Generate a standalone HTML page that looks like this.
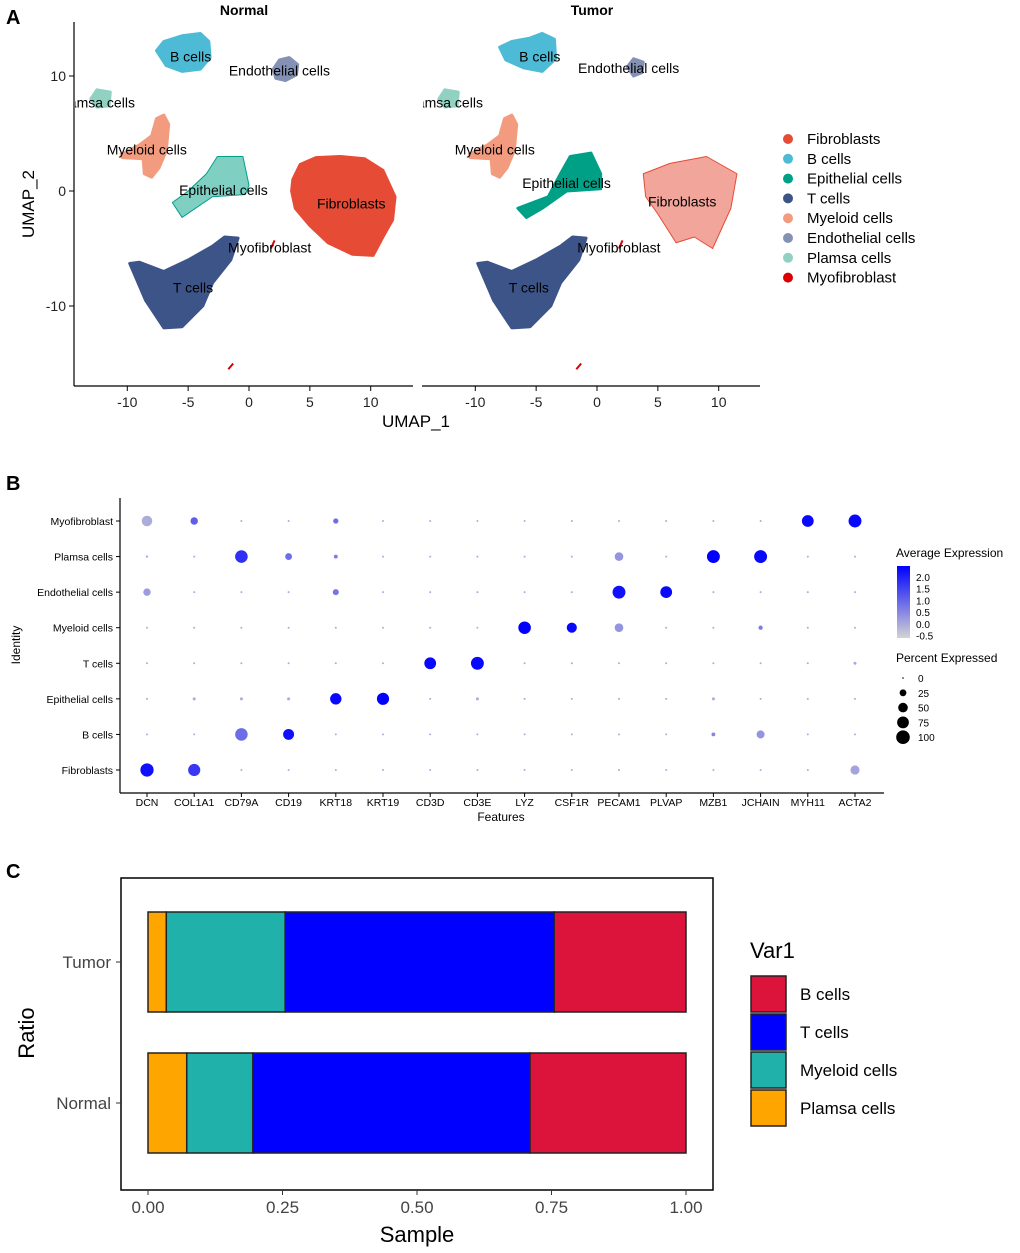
<!DOCTYPE html>
<html><head><meta charset="utf-8"><style>
body{margin:0;background:#fff;}
svg{display:block;font-family:"Liberation Sans",sans-serif;}
</style></head><body>
<svg id="fig" width="1020" height="1253" viewBox="0 0 1020 1253">
<defs>
<clipPath id="clipN"><rect x="75" y="20" width="338" height="366"/></clipPath>
<clipPath id="clipT"><rect x="423" y="20" width="338" height="366"/></clipPath>
</defs>
<text x="6" y="24" font-size="20" font-weight="bold">A</text>
<text x="6" y="490" font-size="20" font-weight="bold">B</text>
<text x="6" y="878" font-size="20" font-weight="bold">C</text>
<g id="pa"></g>
<g id="pb"></g>
<g id="pc"></g>
</svg>
<script>
const NS="http://www.w3.org/2000/svg";
function mk(parent,tag,attrs,text){const e=document.createElementNS(NS,tag);for(const k in attrs)e.setAttribute(k,attrs[k]);if(text!==undefined)e.textContent=text;parent.appendChild(e);return e;}

// ===== Panel A data =====
const clusterNames=["Fibroblasts","B cells","Epithelial cells","T cells","Myeloid cells","Endothelial cells","Plamsa cells","Myofibroblast"];
const clusterColors=["#E64B35","#4DBBD5","#00A087","#3C5488","#F39B7F","#8491B4","#91D1C2","#DC0000"];
const umapTicks=[-10,-5,0,5,10];
const normalShapes={
 "B cells":[[-7.6,12.2],[-7,13],[-5.5,13.5],[-4,13.7],[-3.3,13],[-3.2,11.6],[-4,10.6],[-5.5,10.4],[-6.8,10.9]],
 "Endothelial cells":[[2,10.6],[2.5,11.4],[3.3,11.6],[4,11],[3.9,10.1],[3,9.6],[2.2,9.8]],
 "Plamsa cells":[[-13,8],[-12.5,8.8],[-11.4,8.6],[-11.5,7.4],[-12.5,7.3]],
 "Myeloid cells":[[-10.5,3.2],[-9,4],[-8,4.8],[-7.6,6.3],[-7,6.6],[-6.6,5.8],[-6.8,3.5],[-7.4,2],[-8,1.2],[-8.6,1.5],[-8.7,2.8],[-10.4,2.9]],
 "Epithelial cells":[[-6.3,-1],[-5,0],[-3.5,1.5],[-2.6,3],[-0.5,3],[0,0.5],[-0.3,-0.3],[-3,-0.5],[-5.5,-2.3]],
 "Fibroblasts":[[3.6,1],[4.2,2.3],[5.5,2.9],[7.5,3],[9.5,2.8],[11,1.8],[12,-0.5],[11.8,-2.5],[11,-4],[10.2,-5.6],[8.5,-5.5],[6.5,-4.5],[5,-3],[3.8,-1.5],[3.5,0]],
 "T cells":[[-9.8,-6.3],[-9,-6.2],[-7,-7],[-5,-6],[-3,-4.8],[-2,-4],[-0.9,-4.1],[-1.5,-6],[-3,-8],[-3.8,-10],[-5.5,-11.8],[-7,-11.9],[-8.5,-9.5]],
 "Myofibroblast":[[1.8,-5],[2.1,-4.3],[-1.3,-15],[-1.7,-15.5]]
};
const normalSparse=["Epithelial cells"];
const tumorShapes={
 "B cells":[[-8,12.5],[-7,13],[-5.5,13.3],[-4.5,13.7],[-3.5,13.2],[-3.4,11.5],[-4.5,10.4],[-6,10.7],[-7.5,11.4]],
 "Endothelial cells":[[2.5,10.8],[3,11.5],[3.8,11.2],[3.7,10.3],[3,10]],
 "Plamsa cells":[[-13,8],[-12.5,8.8],[-11.4,8.6],[-11.5,7.4],[-12.5,7.3]],
 "Myeloid cells":[[-10.5,3.2],[-9,4],[-8,4.8],[-7.6,6.3],[-7,6.6],[-6.6,5.8],[-6.8,3.5],[-7.4,2],[-8,1.2],[-8.6,1.5],[-8.7,2.8],[-10.4,2.9]],
 "Epithelial cells":[[-6.5,-1.5],[-4,-0.5],[-3,1.5],[-2.2,3],[-0.5,3.3],[0.3,1.5],[0.3,0.2],[-2.5,0],[-4.5,-1.5],[-5.8,-2.3]],
 "Fibroblasts":[[3.8,1.5],[6,2.4],[9,3],[11.5,1.5],[11,-1.5],[9.5,-5],[8,-4],[6.5,-4.5],[5,-2],[4,-0.5]],
 "T cells":[[-9.8,-6.3],[-9,-6.2],[-7,-7],[-5,-6],[-3,-4.8],[-2,-4],[-0.9,-4.1],[-1.5,-6],[-3,-8],[-3.8,-10],[-5.5,-11.8],[-7,-11.9],[-8.5,-9.5]],
 "Myofibroblast":[[1.8,-5],[2.1,-4.3],[-1.3,-15],[-1.7,-15.5]]
};
const tumorSparse=["Fibroblasts"];
const normalLabels={"B cells":[-4.8,11.7],"Endothelial cells":[2.5,10.5],"Plamsa cells":[-12.6,7.7],"Myeloid cells":[-8.4,3.6],"Epithelial cells":[-2.1,0.1],"Fibroblasts":[8.4,-1.1],"Myofibroblast":[1.7,-4.9],"T cells":[-4.6,-8.4]};
const tumorLabels={"B cells":[-4.7,11.7],"Endothelial cells":[2.6,10.7],"Plamsa cells":[-12.6,7.7],"Myeloid cells":[-8.4,3.6],"Epithelial cells":[-2.5,0.7],"Fibroblasts":[7.0,-0.9],"Myofibroblast":[1.8,-4.9],"T cells":[-5.6,-8.4]};

(function(){
 const g=document.getElementById('pa');
 const yS=v=>191-v*11.5;
 const panels=[{x0:249,title:"Normal",shapes:normalShapes,sparse:normalSparse,labels:normalLabels,clip:"clipN",ax0:74,ax1:413},
               {x0:597,title:"Tumor",shapes:tumorShapes,sparse:tumorSparse,labels:tumorLabels,clip:"clipT",ax0:422,ax1:760}];
 panels.forEach((p,pi)=>{
  const xS=v=>p.x0+v*12.17;
  const pg=mk(g,'g',{'clip-path':`url(#${p.clip})`});
  
  
  clusterNames.forEach((nm,i)=>{
   const pts=p.shapes[nm];
   if(nm==="Myofibroblast"){
    for(let k=0;k<pts.length;k+=2){
     const l=mk(pg,'line',{x1:xS(pts[k][0]),y1:yS(pts[k][1]),x2:xS(pts[k+1][0]),y2:yS(pts[k+1][1]),stroke:clusterColors[i],'stroke-width':2});
     
     
    }
    return;
   }
   const sparse=p.sparse.includes(nm);
   const poly=mk(pg,'polygon',{points:pts.map(q=>xS(q[0])+','+yS(q[1])).join(' '),fill:clusterColors[i],'fill-opacity':sparse?0.5:1,stroke:clusterColors[i],'stroke-width':sparse?1:3,'stroke-linejoin':'round'});
   
   
  });
  clusterNames.forEach(nm=>{
   const c=p.labels[nm];
   const t=mk(pg,'text',{x:xS(c[0]),y:yS(c[1])+5,'font-size':14,'text-anchor':'middle',fill:'#000'},nm);
   
   
  });
  const tt=mk(g,'text',{x:xS(0)-5,y:15,'font-size':14,'font-weight':'bold','text-anchor':'middle'},p.title);
  
  
  mk(g,'line',{x1:p.ax0,y1:386,x2:p.ax1,y2:386,stroke:'#000','stroke-width':1.2});
  umapTicks.forEach(v=>{
   mk(g,'line',{x1:xS(v),y1:386,x2:xS(v),y2:391,stroke:'#000'});
   const t=mk(g,'text',{x:xS(v),y:407,'font-size':14,'text-anchor':'middle',fill:'#222'},v);
   
   
  });
 });
 mk(g,'line',{x1:74,y1:22,x2:74,y2:386,stroke:'#000','stroke-width':1.2});
 [10,0,-10].forEach(v=>{
  mk(g,'line',{x1:69,y1:yS(v),x2:74,y2:yS(v),stroke:'#000'});
  const t=mk(g,'text',{x:66,y:yS(v)+5,'font-size':14,'text-anchor':'end',fill:'#222'},v);
  
  
 });
 let t=mk(g,'text',{x:416,y:427,'font-size':17,'text-anchor':'middle'},'UMAP_1');
 
 t=mk(g,'text',{x:34,y:204,'font-size':17,'text-anchor':'middle',transform:'rotate(-90 34 204)'},'UMAP_2');
 
 clusterNames.forEach((nm,i)=>{
  const y=139+i*19.8;
  const e=mk(g,'g',{});
  
  
  mk(e,'circle',{cx:788,cy:y,r:5,fill:clusterColors[i]});
  mk(e,'text',{x:807,y:y+5,'font-size':15},nm);
 });
})();

// ===== Panel B data =====
const genes=["DCN","COL1A1","CD79A","CD19","KRT18","KRT19","CD3D","CD3E","LYZ","CSF1R","PECAM1","PLVAP","MZB1","JCHAIN","MYH11","ACTA2"];
const identities=["Myofibroblast","Plamsa cells","Endothelial cells","Myeloid cells","T cells","Epithelial cells","B cells","Fibroblasts"];
const pctMyofibroblast=[60,30,2,2,15,2,2,2,2,2,2,2,2,2,75,90];
const pctPlamsa=[3,2,85,25,8,2,2,2,2,2,40,2,90,90,2,2];
const pctEndothelial=[30,2,2,2,20,2,2,2,2,2,90,75,2,2,2,2];
const pctMyeloid=[2,2,2,2,2,2,2,2,85,55,40,2,2,10,2,2];
const pctT=[2,2,2,2,2,2,75,90,2,2,2,2,2,2,2,5];
const pctEpithelial=[2,5,5,5,70,80,2,5,2,2,2,2,5,2,2,2];
const pctB=[2,2,85,65,2,2,2,2,2,2,2,2,8,35,2,2];
const pctFibroblasts=[95,80,2,2,2,2,2,2,2,2,2,2,2,2,2,45];
const exprMyofibroblast=[0,1.0,0,0,0.8,0,0,0,0,0,0,0,0,0,2.1,2.1];
const exprPlamsa=[0,0,1.6,0.8,0.6,0,0,0,0,0,0.3,0,2.2,2.1,0,0];
const exprEndothelial=[0.2,0,0,0,0.7,0,0,0,0,0,2.0,2.1,0,0,0,0];
const exprMyeloid=[0,0,0,0,0,0,0,0,2.2,2.1,0.3,0,0,0.6,0,0];
const exprT=[0,0,0,0,0,0,2.1,2.1,0,0,0,0,0,0,0,0];
const exprEpithelial=[0,0,0,0,2.1,2.2,0,0,0,0,0,0,0,0,0,0];
const exprB=[0,0,0.8,2.0,0,0,0,0,0,0,0,0,0.5,0.3,0,0];
const exprFibroblasts=[2.0,1.5,0,0,0,0,0,0,0,0,0,0,0,0,0,0.1];
const pctRows=[pctMyofibroblast,pctPlamsa,pctEndothelial,pctMyeloid,pctT,pctEpithelial,pctB,pctFibroblasts];
const exprRows=[exprMyofibroblast,exprPlamsa,exprEndothelial,exprMyeloid,exprT,exprEpithelial,exprB,exprFibroblasts];
const colorTicks=[2.0,1.5,1.0,0.5,0.0,-0.5];
const pctTicks=[0,25,50,75,100];

(function(){
 const g=document.getElementById('pb');
 const xS=i=>147+i*47.2;
 const yS=j=>521+j*35.57;
 const rS=p=>Math.max(1,Math.sqrt(p/100)*6.8);
 const col=v=>{let t=(v+0.5)/2.7;t=Math.max(0,Math.min(1,t));const r=Math.round(211*(1-t)),gg=Math.round(211*(1-t)),b=Math.round(211+(255-211)*t);return `rgb(${r},${gg},${b})`;};
 mk(g,'line',{x1:120,y1:498,x2:120,y2:793,stroke:'#000','stroke-width':1.2});
 mk(g,'line',{x1:120,y1:793,x2:884,y2:793,stroke:'#000','stroke-width':1.2});
 identities.forEach((nm,j)=>{
  mk(g,'line',{x1:116,y1:yS(j),x2:120,y2:yS(j),stroke:'#000'});
  const t=mk(g,'text',{x:113,y:yS(j)+4,'font-size':10.5,'text-anchor':'end'},nm);
  
  genes.forEach((gn,i)=>{
   const c=mk(g,'circle',{cx:xS(i),cy:yS(j),r:rS(pctRows[j][i]),fill:col(exprRows[j][i])});
   
   
  });
 });
 genes.forEach((gn,i)=>{
  mk(g,'line',{x1:xS(i),y1:793,x2:xS(i),y2:797,stroke:'#000'});
  const t=mk(g,'text',{x:xS(i),y:806,'font-size':10.5,'text-anchor':'middle'},gn);
  
 });
 let t=mk(g,'text',{x:501,y:821,'font-size':12,'text-anchor':'middle'},'Features');
 
 t=mk(g,'text',{x:20,y:645,'font-size':12,'text-anchor':'middle',transform:'rotate(-90 20 645)'},'Identity');
 
 t=mk(g,'text',{x:896,y:557,'font-size':12},'Average Expression');
 
 const gr=mk(g,'defs',{});
 const lg=mk(gr,'linearGradient',{id:'cb',x1:0,y1:1,x2:0,y2:0});
 mk(lg,'stop',{offset:'0','stop-color':'#d3d3d3'});
 mk(lg,'stop',{offset:'1','stop-color':'#0000ff'});
 const cb=mk(g,'rect',{x:897,y:566,width:13,height:72,fill:'url(#cb)'});
 
 colorTicks.forEach((v,k)=>{
  const tt=mk(g,'text',{x:916,y:581+k*11.7,'font-size':10},v.toFixed(1));
  
 });
 t=mk(g,'text',{x:896,y:662,'font-size':12},'Percent Expressed');
 
 pctTicks.forEach((v,k)=>{
  const y=678+k*14.8;
  const e=mk(g,'g',{});
  
  
  mk(e,'circle',{cx:903,cy:y,r:v===0?0.8:rS(v),fill:'#000'});
  mk(e,'text',{x:918,y:y+4,'font-size':10},v);
 });
})();

// ===== Panel C data =====
const samples=["Tumor","Normal"];
const stackOrder=["Plamsa cells","Myeloid cells","T cells","B cells"];
const stackColors=["#FFA500","#20B2AA","#0000FF","#DC143C"];
const fracTumor=[0.034,0.221,0.500,0.245];
const fracNormal=[0.072,0.123,0.515,0.290];
const fracRows=[fracTumor,fracNormal];
const sampleTicks=[0,0.25,0.5,0.75,1];

(function(){
 const g=document.getElementById('pc');
 const xS=v=>148+v*538;
 const yC=[962,1103];
 mk(g,'rect',{x:121,y:878,width:592,height:312,fill:'none',stroke:'#000','stroke-width':1.5});
 samples.forEach((s,j)=>{
  let acc=0;
  fracRows[j].forEach((f,k)=>{
   const r=mk(g,'rect',{x:xS(acc),y:yC[j]-50,width:xS(acc+f)-xS(acc),height:100,fill:stackColors[k],stroke:'#222','stroke-width':1.5});
   
   
   acc+=f;
  });
  mk(g,'line',{x1:116,y1:yC[j],x2:121,y2:yC[j],stroke:'#333'});
  const t=mk(g,'text',{x:111,y:yC[j]+6,'font-size':17,'text-anchor':'end',fill:'#444'},s);
  
 });
 sampleTicks.forEach(v=>{
  mk(g,'line',{x1:xS(v),y1:1190,x2:xS(v),y2:1195,stroke:'#333'});
  const t=mk(g,'text',{x:xS(v),y:1213,'font-size':17,'text-anchor':'middle',fill:'#444'},v.toFixed(2));
  
 });
 let t=mk(g,'text',{x:417,y:1242,'font-size':22,'text-anchor':'middle'},'Sample');
 
 t=mk(g,'text',{x:34,y:1033,'font-size':22,'text-anchor':'middle',transform:'rotate(-90 34 1033)'},'Ratio');
 
 t=mk(g,'text',{x:750,y:958,'font-size':22},'Var1');
 
 const legOrder=[3,2,1,0];
 legOrder.forEach((k,i)=>{
  const y=976+i*38;
  const e=mk(g,'g',{});
  
  
  mk(e,'rect',{x:751,y:y,width:35,height:36,fill:stackColors[k],stroke:'#222','stroke-width':1.5});
  mk(e,'text',{x:800,y:y+24,'font-size':17},stackOrder[k]);
 });
})();
</script>
</body></html>
